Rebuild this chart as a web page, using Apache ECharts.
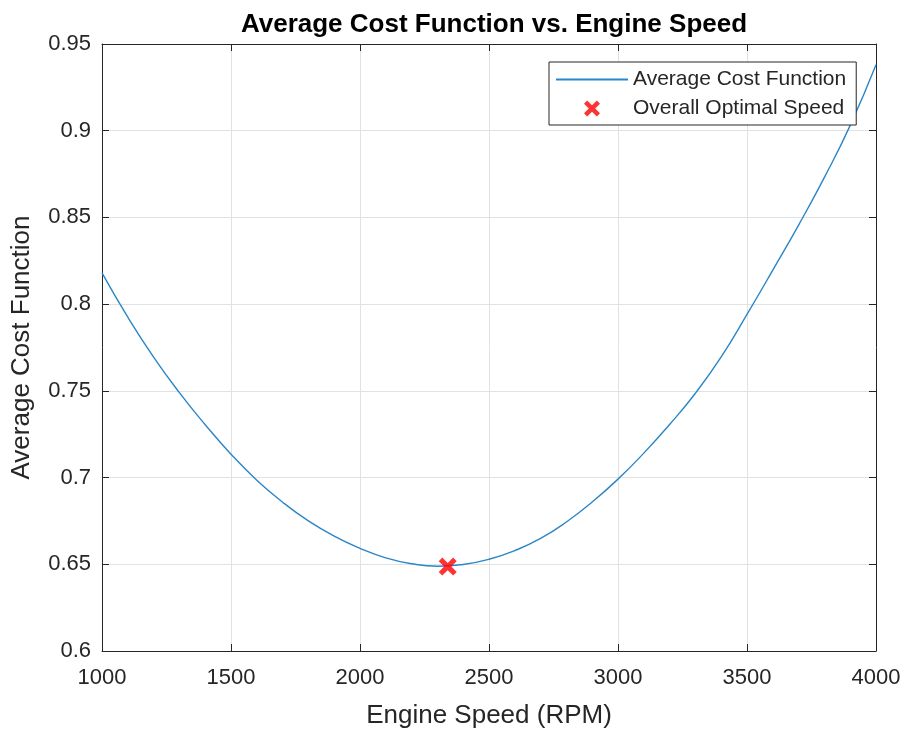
<!DOCTYPE html>
<html>
<head>
<meta charset="utf-8">
<script src="https://cdn.jsdelivr.net/npm/echarts@6/dist/echarts.min.js"></script>
<style>
  html, body { margin: 0; padding: 0; background: #fff; }
  #chart-div { width: 906px; height: 734px; }
</style>
</head>
<body>
<div id="chart-div"></div>
<script>
// moottorin pyörimisnopeus (RPM) ja keskimääräinen kustannusfunktio
const speeds = [1000, 1100, 1200, 1300, 1400, 1500, 1600, 1700, 1800, 1900,
    2000, 2100, 2200, 2300, 2400, 2500, 2600, 2700, 2800, 2900,
    3000, 3100, 3200, 3300, 3400, 3500, 3600, 3700, 3800, 3900, 4000]
const avgCost = [0.818, 0.7925, 0.7695, 0.749, 0.7305, 0.7135, 0.6985, 0.6858, 0.675, 0.6662,
    0.6592, 0.6537, 0.6503, 0.6489, 0.6499, 0.6529, 0.6579, 0.6649, 0.6744, 0.6859,
    0.6991, 0.7141, 0.7306, 0.7486, 0.7696, 0.7941, 0.8196, 0.8456, 0.8731, 0.9031, 0.938]
// optimipiste (punainen rasti)
const optimalSpeed = [2340]
const optimalCost = [0.6487]

const font = "'Liberation Sans', Arial, sans-serif"
const axisColor = '#262626'
const gridColor = '#e2e2e2'
const xMark = 'path://M0,2L2,0L5,3L8,0L10,2L7,5L10,8L8,10L5,7L2,10L0,8L3,5Z'

let myChart = echarts.init(document.getElementById('chart-div'))

// ylä- ja oikea reuna (laatikko ympäri)
const frameAxis = {
    axisLine: { show: true, lineStyle: { color: axisColor, width: 1 } },
    axisTick: { show: true, inside: true, length: 7, lineStyle: { color: axisColor } },
    axisLabel: { show: false },
    splitLine: { show: false }
}

const option = {
    animation: false,
    backgroundColor: '#fff',
    title: {
        text: 'Average Cost Function vs. Engine Speed',
        left: 489, textAlign: 'center', top: 7,
        textStyle: { fontFamily: font, fontSize: 26, fontWeight: 'bold', color: '#000' }
    },
    legend: {
        left: 549, top: 62,
        orient: 'vertical',
        backgroundColor: '#fff',
        borderColor: axisColor, borderWidth: 1, borderRadius: 0,
        padding: [7, 10, 6, 6],
        itemWidth: 72, itemHeight: 16, itemGap: 8,
        textStyle: { fontFamily: font, fontSize: 21, color: axisColor },
        data: [
            { name: 'Average Cost Function', itemStyle: { opacity: 0 } },
            { name: 'Overall Optimal Speed' }
        ]
    },
    grid: { left: 102, right: 30, top: 44, bottom: 81 },
    xAxis: [{
        type: 'value', min: 1000, max: 4000, interval: 500,
        name: 'Engine Speed (RPM)', nameLocation: 'middle', nameGap: 52,
        nameTextStyle: { fontFamily: font, fontSize: 26, color: axisColor },
        axisLine: { show: true, lineStyle: { color: axisColor, width: 1 } },
        axisTick: { show: true, inside: true, length: 7, lineStyle: { color: axisColor } },
        axisLabel: { fontFamily: font, fontSize: 22, color: axisColor, margin: 16,
            formatter: v => String(v) },
        splitLine: { show: true, lineStyle: { color: gridColor, width: 1 } }
    }, Object.assign({ type: 'value', position: 'top', min: 1000, max: 4000, interval: 500 }, frameAxis)],
    yAxis: [{
        type: 'value', min: 0.6, max: 0.95, interval: 0.05,
        name: 'Average Cost Function', nameLocation: 'middle', nameGap: 67,
        nameTextStyle: { fontFamily: font, fontSize: 26, color: axisColor },
        axisLine: { show: true, lineStyle: { color: axisColor, width: 1 } },
        axisTick: { show: true, inside: true, length: 7, lineStyle: { color: axisColor } },
        axisLabel: { fontFamily: font, fontSize: 22, color: axisColor, margin: 11 },
        splitLine: { show: true, lineStyle: { color: gridColor, width: 1 } }
    }, Object.assign({ type: 'value', position: 'right', min: 0.6, max: 0.95, interval: 0.05 }, frameAxis)],
    series: [{
        name: 'Average Cost Function',
        type: 'line',
        smooth: true,
        symbol: 'none',
        lineStyle: { color: '#2a86c8', width: 1.4 },
        itemStyle: { color: '#2a86c8' },
        data: speeds.map((s, i) => [s, avgCost[i]])
    }, {
        name: 'Overall Optimal Speed',
        type: 'scatter',
        symbol: xMark,
        symbolSize: 18,
        itemStyle: { color: '#ff0000' },
        z: 5,
        data: optimalSpeed.map((s, i) => [s, optimalCost[i]])
    }]
}

myChart.setOption(option)
</script>
</body>
</html>
